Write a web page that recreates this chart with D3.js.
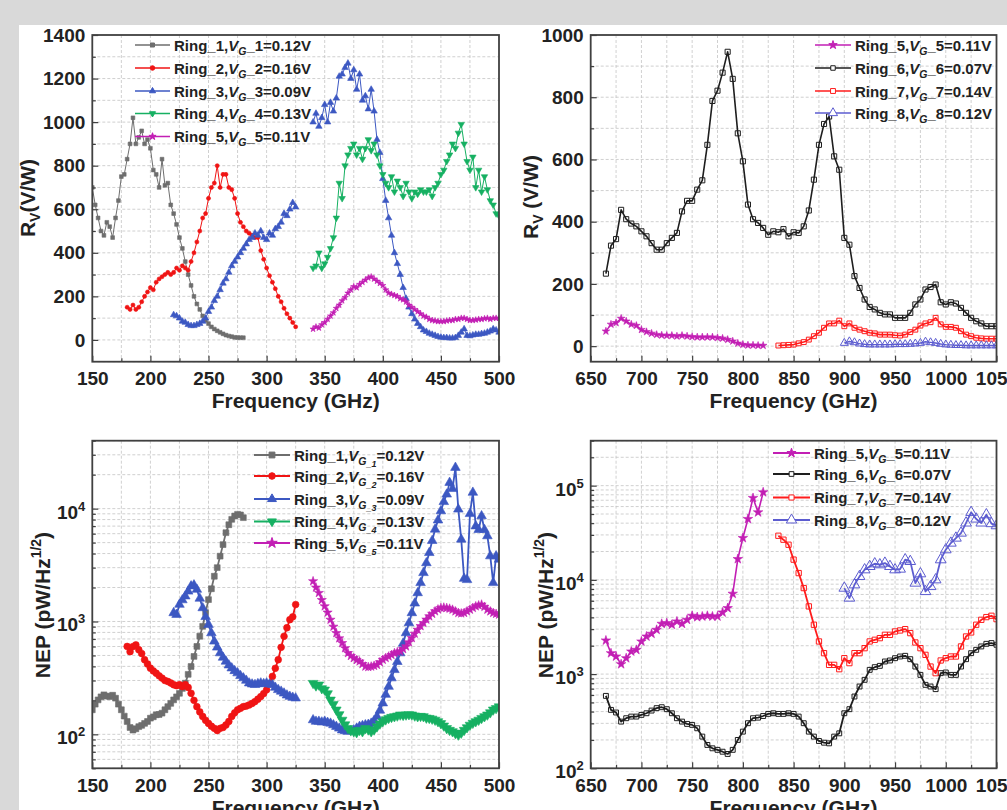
<!DOCTYPE html>
<html><head><meta charset="utf-8">
<script src="https://cdn.jsdelivr.net/npm/d3@7"></script>
<style>
body{margin:0;background:#fff;overflow:hidden;}
svg{display:block;}
text{font-family:"Liberation Sans",Arial,Helvetica,sans-serif;font-weight:bold;fill:#222;}
</style></head><body>
<svg id="c" width="1007" height="810"></svg>
<script>
// ---------------- DATA ----------------
// Panel 1 : Rv (V/W), 150-500 GHz, 2.5 GHz grid
const p1Ring1Freq = d3.range(150, 280.01, 2.5);
const p1Ring1 = [700,620,560,500,480,540,520,470,560,640,750,760,830,900,1020,900,930,960,900,920,880,780,760,700,830,710,720,620,580,530,470,420,360,300,250,200,165,140,110,90,75,60,50,42,35,28,22,18,15,12,11,10,10];
const p1Ring2Freq = d3.range(180, 325.01, 2.5);
const p1Ring2 = [150,140,160,140,150,175,200,220,240,230,265,280,290,300,310,300,310,330,320,340,330,320,360,400,450,500,560,580,650,700,720,800,700,760,760,700,690,650,580,540,520,500,490,480,470,470,410,370,330,295,265,235,200,175,145,120,100,80,60];
const p1Ring3aFreq = d3.range(220, 325.01, 2.5);
const p1Ring3a = [115,110,100,85,80,70,65,65,70,75,85,100,130,150,180,200,230,260,280,310,340,360,380,400,420,440,460,470,490,480,500,470,460,490,480,510,520,540,580,570,600,630,610];
const p1Ring3bFreq = d3.range(340, 500.01, 2.5);
const p1Ring3b = [1000,1040,980,1020,1080,1000,1090,1050,1110,1210,1220,1250,1270,1200,1240,1150,1220,1100,1120,1060,1150,1050,920,860,740,640,560,480,400,350,300,240,190,150,120,95,75,60,45,38,30,25,20,15,12,10,10,8,8,10,20,35,50,20,18,22,25,25,28,30,35,40,50,45,35];
const p1Ring4Freq = d3.range(340, 500.01, 2.5);
const p1Ring4 = [330,340,400,330,350,380,420,470,560,720,650,800,850,880,900,850,880,830,880,920,870,900,850,800,760,720,700,750,680,730,700,660,720,680,650,680,670,690,680,680,690,660,700,720,760,780,820,850,900,880,950,990,900,820,780,840,700,780,680,750,690,640,620,580,570];
const p1Ring5Freq = d3.range(340, 500.01, 2.5);
const p1Ring5 = [50,60,55,70,80,95,110,125,145,160,180,195,215,230,245,240,255,265,275,285,290,280,270,260,250,230,215,210,205,200,190,185,175,160,150,140,130,120,110,105,95,90,88,85,85,85,88,90,90,95,95,100,100,95,90,90,92,95,95,98,100,95,100,100,100];

// Panel 2 : Rv (V/W), 650-1050 GHz, 5 GHz grid
const p2Ring5Freq = d3.range(665, 820.01, 5);
const p2Ring5 = [48,70,75,89,80,70,66,53,46,41,37,35,34,34,32,34,32,30,29,29,29,29,27,25,21,16,9,5,3,3,2,2];
const p2Ring6Freq = d3.range(665, 1050.01, 5);
const p2Ring6 = [233,323,344,438,408,394,385,369,353,331,310,310,331,348,364,433,467,467,503,533,647,788,821,879,946,859,684,594,455,408,396,380,358,369,366,376,353,366,364,385,436,535,647,714,738,610,567,348,326,225,187,150,126,118,107,102,102,91,91,91,107,134,150,182,190,198,141,134,141,137,123,107,91,80,73,64,64,64];
const p2Ring7Freq = d3.range(835, 1050.01, 5);
const p2Ring7 = [2,3,4,5,9,13,21,32,43,59,73,73,82,64,73,59,53,48,43,41,37,37,37,35,34,37,45,53,66,73,77,91,70,62,62,59,48,37,32,27,25,24,24,24];
const p2Ring8Freq = d3.range(900, 1050.01, 5);
const p2Ring8 = [10,15,12,8,6,5,5,5,5,5,6,6,6,7,8,10,14,12,10,7,5,4,3,3,2,2,2,2,2,2,2];

// Panel 3 : NEP (pW/Hz^1/2), 150-500 GHz
const p3Ring1Freq = d3.range(150, 280.01, 2.5);
const p3Ring1 = [165,185,202,215,224,218,216,222,209,185,165,145,130,115,109,112,117,120,125,130,139,143,149,150,154,165,176,188,202,215,231,255,284,340,399,490,601,740,906,1200,1563,1950,2518,3000,3792,4800,6120,7200,8040,8600,8910,8800,8320];
const p3Ring2Freq = d3.range(180, 325.01, 2.5);
const p3Ring2 = [601,540,600,620,562,520,458,420,386,365,348,330,315,300,294,285,275,270,275,265,275,260,231,200,176,158,144,133,125,118,113,108,113,115,121,130,144,155,165,170,176,178,182,188,195,205,216,230,248,280,326,385,458,590,738,880,1037,1100,1413];
const p3Ring3aFreq = d3.range(220, 325.01, 2.5);
const p3Ring3a = [1191,1150,1413,1550,1675,1850,2056,2100,1920,1600,1318,1100,937,790,667,590,525,480,443,410,386,365,349,330,315,300,284,278,275,280,284,280,284,278,275,260,248,240,231,222,216,212,209];
const p3Ring3bFreq = d3.range(340, 500.01, 2.5);
const p3Ring3b = [134,130,130,128,130,127,125,121,117,113,109,107,106,107,109,113,117,119,121,122,125,132,144,163,189,225,265,315,373,440,525,640,790,970,1191,1450,1791,2200,2699,3300,4063,5200,6550,7900,9530,11500,13400,17000,15000,23100,9860,5340,2400,2340,9000,13900,7000,6500,8600,6500,5720,3800,2200,3800,3550];
const p3Ring4Freq = d3.range(340, 500.01, 2.5);
const p3Ring4 = [284,270,275,255,248,230,202,185,165,150,134,122,113,108,106,104,109,106,113,110,106,110,117,124,130,135,139,142,144,146,149,148,149,150,149,146,144,145,144,140,139,137,134,130,125,119,113,109,106,102,99,103,109,115,121,126,130,134,139,144,149,156,165,170,176];
const p3Ring5Freq = d3.range(340, 500.01, 2.5);
const p3Ring5 = [2275,2000,1791,1550,1364,1200,1037,900,790,710,644,580,525,495,474,455,443,420,399,395,399,405,413,435,458,475,490,505,525,535,543,570,601,655,713,780,845,910,970,1040,1112,1170,1232,1280,1318,1330,1318,1300,1273,1230,1191,1180,1191,1230,1273,1320,1364,1390,1413,1350,1273,1230,1191,1170,1151];

// Panel 4 : NEP (pW/Hz^1/2), 650-1050 GHz
const p4Ring5Freq = d3.range(665, 820.01, 5);
const p4Ring5 = [2275,1667,1537,1274,1475,1737,1808,2219,2506,2679,2952,3420,3476,3338,3622,3420,3768,4158,4025,4093,4158,4093,4093,4510,5016,7125,16630,27800,44260,74000,52100,85100];
const p4Ring6Freq = d3.range(665, 1050.01, 5);
const p4Ring6 = [587,417,391,313,340,354,354,369,384,410,435,445,424,384,340,313,296,289,266,217,177,163,157,150,142,157,200,245,301,340,345,359,378,384,378,378,384,378,354,301,245,217,195,187,184,217,235,384,424,578,738,869,1109,1184,1223,1360,1394,1475,1537,1563,1439,1202,981,769,738,692,1023,1040,981,981,1202,1439,1667,1810,1965,2095,2133,2048];
const p4Ring7Freq = d3.range(835, 1050.01, 5);
const p4Ring7 = [29400,26700,23600,16400,11800,8180,5230,3340,2220,1667,1253,1253,1127,1475,1307,1667,1667,1884,2220,2312,2407,2611,2611,2834,2904,3000,2721,2165,1884,1600,1202,1023,1394,1475,1537,1537,1965,2506,2767,3340,3768,4025,4158,3830];
const p4Ring8Freq = d3.range(900, 1050.01, 5);
const p4Ring8 = [8180,6410,8870,10890,12810,13900,14830,14480,15070,13900,12810,13030,16370,15710,9250,11620,7530,8510,10030,16370,20900,24600,27800,31400,40200,52100,44300,40200,49200,39600,37600];

// tick labels
const xTicksLow = [150,200,250,300,350,400,450,500];
const xTicksHigh = [650,700,750,800,850,900,950,1000,1050];
const yTicksP1 = [0,200,400,600,800,1000,1200,1400];
const yTicksP2 = [0,200,400,600,800,1000];
const yTicksP3 = [100,1000,10000];
const yTicksP4 = [100,1000,10000,100000];

// legend labels
const legendP1 = [["1","0.12"],["2","0.16"],["3","0.09"],["4","0.13"],["5","0.11"]];
const legendP2 = [["5","0.11"],["6","0.07"],["7","0.14"],["8","0.12"]];

// ---------------- DRAW ----------------
const svg = d3.select('#c');
svg.append('rect').attr('width',1007).attr('height',810).attr('fill','#d9d9d9');
svg.append('rect').attr('x',19).attr('y',25).attr('width',988).attr('height',785).attr('fill','#fff');

const COL = {r1:'#6e6e6e', r2:'#f01414', r3:'#3c58c2', r4:'#16b062', r5:'#c21fb4', r6:'#1e1e1e', r7:'#ff1c1c', r8:'#5c5cd0'};
const SYM = {square:d3.symbolSquare, circle:d3.symbolCircle, tri:d3.symbolTriangle, down:d3.symbolTriangle, star:d3.symbolStar};

let clipId = 0;
function drawPanel(cfg){
  const g = svg.append('g');
  const {l,r,t,b} = cfg;
  const x = d3.scaleLinear().domain(cfg.xd).range([l,r]);
  const y = (cfg.log ? d3.scaleLog() : d3.scaleLinear()).domain(cfg.yd).range([b,t]);
  const gridStyle = s => s.attr('stroke','#c4c4c4').attr('stroke-width',0.8).attr('stroke-dasharray','3,2');
  g.append('g').selectAll('line').data(cfg.xGrid).join('line')
    .attr('x1',d=>x(d)).attr('x2',d=>x(d)).attr('y1',t).attr('y2',b).call(gridStyle);
  g.append('g').selectAll('line').data(cfg.yGrid).join('line')
    .attr('y1',d=>y(d)).attr('y2',d=>y(d)).attr('x1',l).attr('x2',r).call(gridStyle);
  const cid = 'clip'+(clipId++);
  g.append('clipPath').attr('id',cid).append('rect').attr('x',l).attr('y',t).attr('width',r-l).attr('height',b-t);
  const dg = g.append('g').attr('clip-path',`url(#${cid})`);
  cfg.series.forEach(s=>{
    s.parts.forEach(([fr,vals])=>{
      const pts = vals.map((v,i)=>[fr[i],v]);
      dg.append('path').attr('d', d3.line().x(d=>x(d[0])).y(d=>y(d[1]))(pts))
        .attr('fill','none').attr('stroke',s.color).attr('stroke-width',s.lw).attr('stroke-linejoin','round');
      const sp = d3.symbol().type(SYM[s.sym]).size(s.ms)();
      dg.append('g').selectAll('path').data(pts).join('path')
        .attr('transform',d=>`translate(${x(d[0])},${y(d[1])})${s.sym==='down'?' rotate(180)':''}`)
        .attr('d',sp)
        .attr('fill', s.open ? 'none' : s.color)
        .attr('stroke', s.color).attr('stroke-width', s.open ? 1 : 0.6);
    });
  });
  g.append('rect').attr('x',l).attr('y',t).attr('width',r-l).attr('height',b-t)
    .attr('fill','none').attr('stroke','#404040').attr('stroke-width',1.8);
  g.append('g').attr('transform',`translate(0,${b})`)
    .call(d3.axisBottom(x).tickValues(cfg.xTicks).tickSize(-6).tickPadding(10).tickFormat(d3.format('d')));
  g.append('g').attr('transform',`translate(0,${b})`)
    .call(d3.axisBottom(x).tickValues(cfg.xMinor).tickSize(-3.5).tickFormat(''));
  const ay = g.append('g').attr('transform',`translate(${l},0)`)
    .call(d3.axisLeft(y).tickValues(cfg.yTicks).tickSize(-6).tickPadding(7).tickFormat(cfg.log ? ()=> '' : d3.format('d')));
  g.append('g').attr('transform',`translate(${l},0)`)
    .call(d3.axisLeft(y).tickValues(cfg.yMinor).tickSize(-3.5).tickFormat(''));
  g.selectAll('.domain').remove();
  g.selectAll('.tick line').attr('stroke','#404040').attr('stroke-width',1.2);
  g.selectAll('.tick text').attr('font-size',19).attr('font-family',null).attr('fill','#222');
  if(cfg.log){
    ay.selectAll('.tick text').each(function(d){
      const tx = d3.select(this);
      tx.text(null);
      tx.append('tspan').text('10');
      tx.append('tspan').attr('font-size',13).attr('dy',-8).text(Math.round(Math.log10(d)));
      tx.attr('dy','0.5em');
    });
  }
  g.append('text').attr('x',(l+r)/2).attr('y',cfg.xTitleY).attr('text-anchor','middle')
    .attr('font-size',21).text('Frequency (GHz)');
  const yt = g.append('text').attr('transform',`translate(${cfg.yTitleX},${cfg.yTitleY}) rotate(-90)`)
    .attr('text-anchor','middle').attr('font-size',21);
  cfg.yTitle(yt);
  cfg.legend.forEach((e,i)=>{
    const yy = cfg.legY[i];
    const lg = g.append('g');
    lg.append('line').attr('x1',cfg.legX0).attr('x2',cfg.legX1).attr('y1',yy).attr('y2',yy)
      .attr('stroke',e.color).attr('stroke-width',e.llw || 1.6);
    lg.append('path').attr('transform',`translate(${(cfg.legX0+cfg.legX1)/2},${yy})${e.sym==='down'?' rotate(180)':''}`)
      .attr('d',d3.symbol().type(SYM[e.sym]).size(e.lms)())
      .attr('fill', e.open?'#fff':e.color).attr('stroke',e.color).attr('stroke-width',1);
    const tx = lg.append('text').attr('x',cfg.legX1+4).attr('y',yy+5.5).attr('font-size',15);
    tx.append('tspan').text(`Ring_${e.n},`);
    tx.append('tspan').attr('font-style','italic').text('V');
    if(cfg.legStyle==='nested'){
      tx.append('tspan').attr('font-style','italic').attr('font-size',10.5).attr('dy',4).text('G');
      tx.append('tspan').attr('font-style','italic').attr('font-size',9).attr('dy',2).text(`_${e.n}`);
      tx.append('tspan').attr('dy',-6).text(`=${e.v}V`);
    } else {
      tx.append('tspan').attr('font-style','italic').attr('font-size',10.5).attr('dy',4).text('G');
      tx.append('tspan').attr('dy',-4).text(`_${e.n}=${e.v}V`);
    }
  });
}

function logGrid(lo,hi){
  const out=[];
  for(let e=1;e<=6;e++) for(let k=1;k<=9;k++){ const v=k*Math.pow(10,e); if(v>=lo && v<=hi) out.push(v); }
  return out;
}

const rvTitle = sep => yt => {
  yt.append('tspan').text('R');
  yt.append('tspan').attr('font-size',14).attr('dy',5).text('V');
  yt.append('tspan').attr('dy',-5).text(sep+'(V/W)');
};
const nepTitle = yt => {
  yt.append('tspan').text('NEP (pW/Hz');
  yt.append('tspan').attr('font-size',14).attr('dy',-9).text('1/2');
  yt.append('tspan').attr('dy',9).text(')');
};

// Panel 1
drawPanel({
  l:92.3, r:499, t:35, b:361.7, xd:[150,500], yd:[-100,1400], log:false,
  xGrid:d3.range(175,500,25), yGrid:d3.range(-100,1400,100),
  xTicks:xTicksLow, xMinor:d3.range(175,500,50), yTicks:yTicksP1, yMinor:d3.range(100,1400,200),
  xTitleY:408, yTitleX:35, yTitleY:198, yTitle:rvTitle(''),
  series:[
    {color:COL.r1, sym:'square', ms:14, lw:1, parts:[[p1Ring1Freq,p1Ring1]]},
    {color:COL.r2, sym:'circle', ms:13, lw:1, parts:[[p1Ring2Freq,p1Ring2]]},
    {color:COL.r3, sym:'tri', ms:18, lw:1, parts:[[p1Ring3aFreq,p1Ring3a],[p1Ring3bFreq,p1Ring3b]]},
    {color:COL.r4, sym:'down', ms:18, lw:1, parts:[[p1Ring4Freq,p1Ring4]]},
    {color:COL.r5, sym:'star', ms:12, lw:1, parts:[[p1Ring5Freq,p1Ring5]]}
  ],
  legX0:135, legX1:170, legY:[45,68,91,113.5,136.5], legStyle:'flat',
  legend: legendP1.map(([n,v],i)=>({n,v,color:[COL.r1,COL.r2,COL.r3,COL.r4,COL.r5][i], sym:['square','circle','tri','down','star'][i], lms:16}))
});

// Panel 2
drawPanel({
  l:590.7, r:996.5, t:35, b:361.7, xd:[650,1050], yd:[-50,1000], log:false,
  xGrid:d3.range(675,1050,25), yGrid:d3.range(0,1000,100),
  xTicks:xTicksHigh, xMinor:d3.range(675,1050,50), yTicks:yTicksP2, yMinor:d3.range(100,1000,200),
  xTitleY:408, yTitleX:538, yTitleY:197, yTitle:rvTitle(' '),
  series:[
    {color:COL.r5, sym:'star', ms:18, lw:1.4, parts:[[p2Ring5Freq,p2Ring5]]},
    {color:COL.r6, sym:'square', ms:26, lw:1.6, open:true, parts:[[p2Ring6Freq,p2Ring6]]},
    {color:COL.r7, sym:'square', ms:24, lw:1.6, open:true, parts:[[p2Ring7Freq,p2Ring7]]},
    {color:COL.r8, sym:'tri', ms:28, lw:1.4, open:true, parts:[[p2Ring8Freq,p2Ring8]]}
  ],
  legX0:815, legX1:851, legY:[45,68,91,113], legStyle:'flat',
  legend: legendP2.map(([n,v],i)=>({n,v,color:[COL.r5,COL.r6,COL.r7,COL.r8][i], sym:['star','square','square','tri'][i], open:i>0, lms:[22,20,24,36][i]}))
});

// Panel 3
drawPanel({
  l:92.3, r:499, t:440.7, b:768.3, xd:[150,500], yd:[50,40000], log:true,
  xGrid:d3.range(175,500,25), yGrid:logGrid(50,40000),
  xTicks:xTicksLow, xMinor:d3.range(175,500,50), yTicks:yTicksP3, yMinor:logGrid(50,40000).filter(v=>!yTicksP3.includes(v)),
  xTitleY:815, yTitleX:50, yTitleY:605, yTitle:nepTitle,
  series:[
    {color:COL.r1, sym:'square', ms:34, lw:1.8, parts:[[p3Ring1Freq,p3Ring1]]},
    {color:COL.r2, sym:'circle', ms:36, lw:1.8, parts:[[p3Ring2Freq,p3Ring2]]},
    {color:COL.r3, sym:'tri', ms:40, lw:1.8, parts:[[p3Ring3aFreq,p3Ring3a],[p3Ring3bFreq,p3Ring3b]]},
    {color:COL.r4, sym:'down', ms:40, lw:1.8, parts:[[p3Ring4Freq,p3Ring4]]},
    {color:COL.r5, sym:'star', ms:26, lw:1.8, parts:[[p3Ring5Freq,p3Ring5]]}
  ],
  legX0:254, legX1:290, legY:[455,476,499,521.5,543], legStyle:'nested',
  legend: legendP1.map(([n,v],i)=>({n,v,color:[COL.r1,COL.r2,COL.r3,COL.r4,COL.r5][i], sym:['square','circle','tri','down','star'][i], lms:34, llw:2}))
});

// Panel 4
drawPanel({
  l:590.7, r:996.5, t:440.7, b:768.3, xd:[650,1050], yd:[100,300000], log:true,
  xGrid:d3.range(675,1050,25), yGrid:logGrid(100,300000),
  xTicks:xTicksHigh, xMinor:d3.range(675,1050,50), yTicks:yTicksP4, yMinor:logGrid(100,300000).filter(v=>!yTicksP4.includes(v)),
  xTitleY:815, yTitleX:553, yTitleY:605, yTitle:nepTitle,
  series:[
    {color:COL.r5, sym:'star', ms:28, lw:1.6, parts:[[p4Ring5Freq,p4Ring5]]},
    {color:COL.r6, sym:'square', ms:24, lw:1.8, open:true, parts:[[p4Ring6Freq,p4Ring6]]},
    {color:COL.r7, sym:'square', ms:28, lw:1.8, open:true, parts:[[p4Ring7Freq,p4Ring7]]},
    {color:COL.r8, sym:'tri', ms:50, lw:1.8, open:true, parts:[[p4Ring8Freq,p4Ring8]]}
  ],
  legX0:773, legX1:810, legY:[453,474,497.5,520], legStyle:'flat',
  legend: legendP2.map(([n,v],i)=>({n,v,color:[COL.r5,COL.r6,COL.r7,COL.r8][i], sym:['star','square','square','tri'][i], open:i>0, lms:[26,22,26,46][i], llw:2}))
});
</script>
</body></html>
